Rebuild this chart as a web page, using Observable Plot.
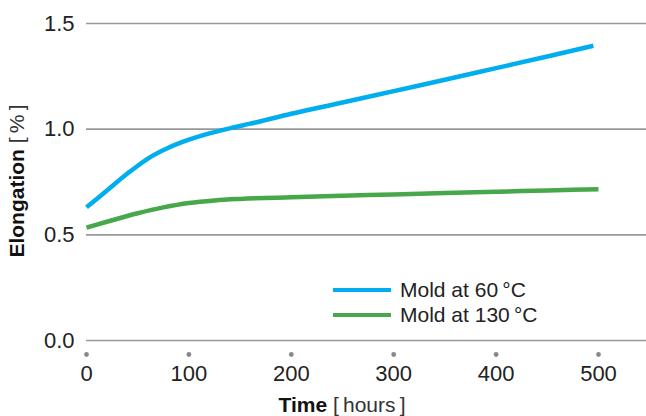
<!DOCTYPE html>
<html>
<head>
<meta charset="utf-8">
<script src="https://cdn.jsdelivr.net/npm/d3@7"></script>
<script src="https://cdn.jsdelivr.net/npm/@observablehq/plot@0.6"></script>
<style>
  html, body { margin: 0; padding: 0; background: #fff; }
  #wrap { position: relative; width: 646px; height: 416px; font-family: "Liberation Sans", Arial, Helvetica, sans-serif; }
  #legend { position: absolute; left: 333px; top: 278px; font-size: 21px; color: #222; line-height: 24.5px; }
  #legend .row { display: flex; align-items: center; white-space: nowrap; }
  #legend .sw { display: inline-block; width: 58px; height: 4px; margin-right: 9px; }
</style>
</head>
<body>
<div id="wrap"></div>
<script>
// ---- data ----
const timeTicks = [0, 100, 200, 300, 400, 500];
const elongTicks = [0, 0.5, 1.0, 1.5];

const hours60 = [0, 20, 40, 60, 80, 100, 120, 140, 160, 200, 250, 300, 350, 400, 450, 495];
const mold60  = [0.63, 0.71, 0.79, 0.861, 0.912, 0.950, 0.980, 1.004, 1.026, 1.073, 1.126, 1.180, 1.234, 1.289, 1.344, 1.395];

const hours130 = [0, 25, 50, 75, 100, 125, 150, 200, 250, 300, 350, 400, 450, 500];
const mold130  = [0.534, 0.569, 0.602, 0.630, 0.651, 0.663, 0.670, 0.678, 0.685, 0.691, 0.698, 0.704, 0.710, 0.716];

const seriesNames = ["Mold at 60\u202F°C", "Mold at 130\u202F°C"];
const seriesColors = ["#00AEEF", "#46A84A"];

const rows = [
  ...hours60.map((t, i) => ({series: seriesNames[0], t, v: mold60[i]})),
  ...hours130.map((t, i) => ({series: seriesNames[1], t, v: mold130[i]}))
];

const font = '"Liberation Sans", Arial, Helvetica, sans-serif';

const chart = Plot.plot({
  width: 646,
  height: 416,
  marginLeft: 86,
  marginRight: 0,
  marginTop: 23,
  marginBottom: 76,
  style: {fontFamily: font, fontSize: "22px", color: "#222", background: "#fff"},
  x: {domain: [0, 546.875], ticks: timeTicks, label: null},
  y: {domain: [0, 1.5], ticks: elongTicks, label: null},
  color: {domain: seriesNames, range: seriesColors},
  marks: [
    Plot.gridY(elongTicks, {stroke: "#999", strokeOpacity: 1, strokeWidth: 1.6}),
    Plot.axisY(elongTicks, {tickSize: 0, tickPadding: 12, tickFormat: d => d.toFixed(1), fontSize: 22, fill: "#222", label: null}),
    Plot.axisX(timeTicks, {tickSize: 0, tickPadding: 25, fontSize: 22, fill: "#222", label: null}),
    Plot.dot(timeTicks, {x: d => d, y: 0, dy: 14, r: 2.4, fill: "#888", stroke: null}),
    Plot.line(rows, {x: "t", y: "v", z: "series", stroke: "series", strokeWidth: 4.5, curve: "monotone-x", strokeLinecap: "butt"})
  ]
});

const wrap = document.getElementById("wrap");
wrap.appendChild(chart);

// axis titles with mixed weights
const svg = d3.select(chart);
const xt = svg.append("text")
  .attr("x", 342).attr("y", 412)
  .attr("text-anchor", "middle")
  .attr("font-family", font).attr("font-size", 21).attr("fill", "#111");
xt.append("tspan").attr("font-weight", "bold").text("Time");
xt.append("tspan").attr("fill", "#333").text(" [\u2009hours\u2009]");

const yt = svg.append("text")
  .attr("transform", "translate(24,181) rotate(-90)")
  .attr("text-anchor", "middle")
  .attr("font-family", font).attr("font-size", 21).attr("fill", "#111");
yt.append("tspan").attr("font-weight", "bold").text("Elongation");
yt.append("tspan").attr("fill", "#333").text(" [\u2009%\u2009]");

// legend
const legend = document.createElement("div");
legend.id = "legend";
seriesNames.forEach((name, i) => {
  const row = document.createElement("div");
  row.className = "row";
  const sw = document.createElement("span");
  sw.className = "sw";
  sw.style.background = seriesColors[i];
  const label = document.createElement("span");
  label.textContent = name;
  row.appendChild(sw);
  row.appendChild(label);
  legend.appendChild(row);
});
wrap.appendChild(legend);
</script>
</body>
</html>
